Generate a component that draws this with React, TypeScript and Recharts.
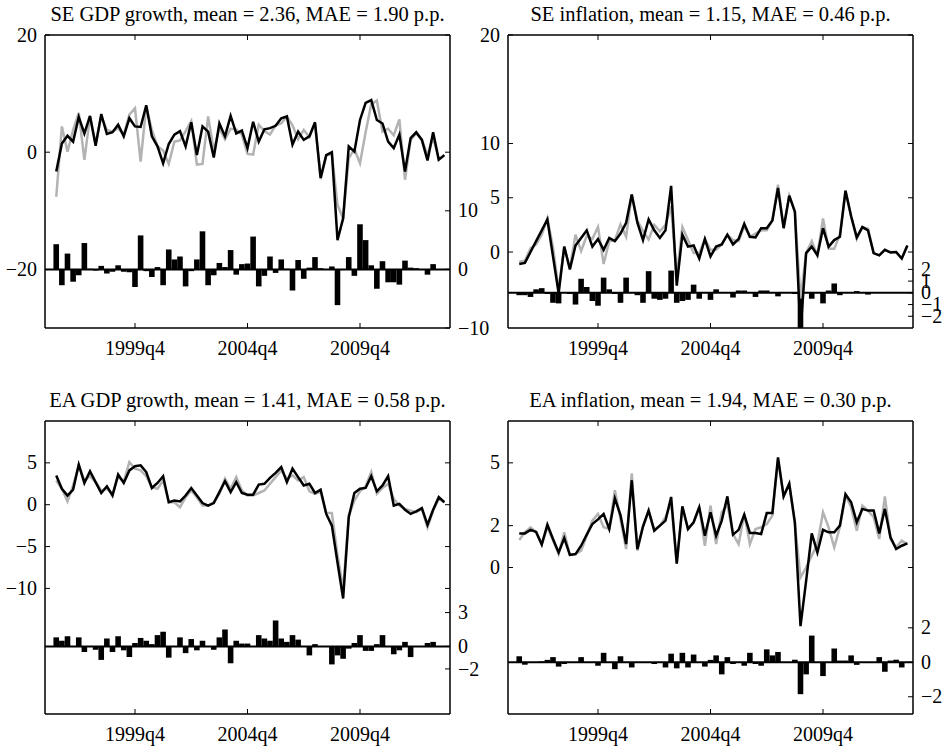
import { ComposedChart, Line, Bar, XAxis, YAxis, ReferenceLine } from 'recharts';

// quarter index on the x axis: 0 = 1995q4, first observation (index 2) = 1996q2
const FIRST_INDEX = 2;
const xTicks = [16, 36, 56];
const xTickLabels = ['1999q4', '2004q4', '2009q4'];

// SE GDP growth
const seGdpActual = [
  -7.6, 4.4, 0.1, 3.8, 6.7, -1.3, 6.1, 1.5, 6.1, 3.8,
  3.5, 4.1, 3.0, 6.4, 7.5, -1.6, 7.8, 3.8, 1.0, 0.3,
  -2.0, 1.8, 2.0, 3.6, 5.3, -2.1, -2.0, 6.1, 0.3, 4.1,
  2.2, 4.0, 3.9, 3.0, -0.3, -0.4, 4.7, 3.6, 3.0, 4.6,
  4.9, 6.1, 4.6, 2.2, 3.8, 2.6, 4.9, -4.6, -0.5, -0.4,
  -9.0, -11.3, -1.0, 0.5, -1.9, 3.4, 8.2, 8.8, 3.5, 4.0,
  2.9, 5.6, -4.7, 2.1, 3.2, 2.1, -0.5, 2.5, -1.2, -0.5,
];
const seGdpModel = [
  -3.3, 1.5, 2.8, 1.8, 6.0, 3.2, 6.2, 1.1, 6.5, 3.1,
  3.4, 4.7, 2.7, 5.8, 4.4, 4.3, 8.0, 2.7, 1.0, -1.9,
  1.4, 3.0, 3.6, 1.0, 5.1, -0.5, 4.4, 3.5, -0.9, 4.9,
  2.7, 6.2, 3.2, 3.7, 0.7, 5.2, 1.8, 3.9, 4.1, 4.5,
  5.8, 6.1, 1.3, 3.5, 2.1, 2.7, 5.1, -4.4, -0.5, 0.0,
  -15.0, -11.3, 1.0, 0.1, 5.5, 8.4, 8.9, 5.5, 4.9, 1.8,
  0.7, 3.0, -3.3, 2.4, 3.4, 2.1, -1.4, 3.4, -1.3, -0.5,
];
const seGdpError = [
  4.3, -2.7, 2.7, -2.1, -1.0, 4.5, 0.1, -0.2, 0.6, -0.7,
  -0.4, 0.7, -0.4, -0.5, -3.0, 5.8, -0.3, -1.3, 0.4, -2.7,
  3.4, 1.7, 2.2, -2.9, -0.3, 1.7, 6.5, -2.7, -1.0, 1.1,
  0.4, 3.3, -0.9, 0.9, 1.0, 5.6, -2.9, -1.1, 2.2, -0.6,
  1.7, 0.1, -3.6, 1.6, -1.6, 0.3, 2.1, 0.2, 0.0, 0.5,
  -6.1, 0.0, 2.1, -1.1, 7.7, 5.0, 0.7, -3.3, 1.4, -2.2,
  -2.2, -2.6, 1.5, 0.3, 0.2, 0.0, -0.9, 0.9, -0.1, 0.0,
];

// SE inflation
const seInfActual = [
  -0.9, -0.8, 0.35, 0.7, 1.6, 3.1, 0.45, -3.5, 0.5, -1.5,
  1.6, 0.1, 1.5, 1.2, 2.3, -1.1, 1.0, 1.1, 2.55, 1.4,
  5.3, 2.9, 1.95, 1.15, 2.5, 1.9, 2.5, 4.2, -2.25, 2.3,
  1.1, -0.1, -0.1, 1.2, 0.2, 0.2, 0.7, 1.6, 1.1, 1.0,
  2.4, 1.4, 1.7, 2.0, 2.0, 2.9, 6.2, 2.2, 5.2, 3.8,
  -4.3, -0.1, 1.0, -0.3, 3.1, 0.3, 0.3, 1.6, 5.65, 3.3,
  1.2, 2.3, 2.15, -0.1, -0.3, 0.2, 0.0, 0.0, -0.6, 0.6,
];
const seInfModel = [
  -1.1, -1.0, 0.0, 1.0, 2.0, 3.0, -0.4, -3.8, 0.5, -1.6,
  0.6, 1.3, 2.0, 0.5, 1.2, 0.2, 1.3, 1.0, 1.7, 2.7,
  5.3, 2.7, 1.1, 3.0, 2.0, 1.3, 2.0, 6.1, -3.1, 1.6,
  0.5, 0.6, -0.6, 1.2, -0.4, 0.5, 0.7, 1.6, 0.7, 1.2,
  2.6, 1.4, 1.35, 2.2, 2.2, 2.9, 5.9, 2.2, 5.2, 3.7,
  -7.3, -0.1, 0.5, -0.3, 2.2, 0.5, 1.1, 1.4, 5.65, 3.3,
  1.35, 2.3, 2.0, -0.1, -0.3, 0.2, -0.05, 0.0, -0.6, 0.6,
];
const seInfError = [
  -0.2, -0.2, -0.35, 0.3, 0.4, -0.1, -0.85, -0.9, 0.0, -0.1,
  -1.0, 1.2, 0.5, -0.7, -1.1, 1.3, 0.3, -0.1, -0.85, 1.3,
  0.0, -0.2, -0.85, 1.85, -0.5, -0.6, -0.5, 1.9, -0.85, -0.7,
  -0.6, 0.7, -0.5, 0.0, -0.6, 0.3, 0.0, 0.0, -0.4, 0.2,
  0.2, 0.0, -0.35, 0.2, 0.2, 0.0, -0.3, 0.0, 0.0, -0.1,
  -3.0, 0.0, -0.5, 0.0, -0.9, 0.2, 0.8, -0.2, 0.0, 0.0,
  0.15, 0.0, -0.15, 0.0, 0.0, 0.0, 0.0, 0.0, 0.0, 0.0,
];

// EA GDP growth
const eaGdpActual = [
  2.9, 1.9, 0.4, 2.3, 4.7, 2.9, 3.4, 2.7, 1.7, 1.9,
  1.3, 3.3, 2.8, 5.1, 4.3, 4.1, 3.4, 2.1, 1.9, 2.9,
  0.3, 0.3, -0.3, 0.9, 1.7, 0.9, -0.1, -0.1, 0.3, 1.3,
  3.1, 1.9, 3.3, 1.7, 1.1, 1.1, 1.4, 1.7, 2.5, 3.3,
  4.1, 3.1, 3.5, 2.9, 3.3, 1.6, 1.3, 1.5, -1.0, -1.0,
  -6.0, -10.1, -1.3, 0.5, 1.6, 2.2, 3.9, 1.3, 2.0, 2.5,
  0.7, -0.1, -0.5, -0.7, -0.9, -0.5, -2.7, -0.7, 0.7, 0.3,
];
const eaGdpModel = [
  3.5, 1.9, 1.1, 1.8, 4.8, 2.6, 4.0, 2.7, 1.4, 2.2,
  1.1, 3.6, 2.6, 4.1, 4.6, 4.7, 3.9, 2.0, 2.6, 3.4,
  0.3, 0.5, 0.4, 1.1, 2.0, 1.1, 0.2, -0.1, 0.2, 1.5,
  2.8, 1.5, 2.7, 1.4, 1.2, 1.2, 2.4, 2.5, 3.2, 3.8,
  4.5, 2.7, 4.3, 3.3, 2.3, 2.5, 1.4, 1.8, -1.1, -2.5,
  -6.9, -11.2, -1.5, 1.4, 1.9, 2.0, 3.4, 1.6, 2.3, 3.4,
  -0.1, 0.1, -0.6, -1.1, -0.8, -0.4, -2.4, -0.6, 0.9, 0.3,
];
const eaGdpError = [
  0.8, 0.5, 0.9, 0.0, 0.8, -0.5, 0.0, -0.3, -1.2, 0.7,
  -0.5, 0.9, -0.35, -0.95, 0.3, 0.75, 0.5, 0.2, 1.0, 1.3,
  -1.0, 0.0, 0.8, -0.6, 0.65, -0.35, 0.5, 0.0, -0.3, 0.8,
  1.5, -1.5, 0.5, 0.25, 0.25, 0.0, 1.0, 0.7, 0.5, 2.3,
  0.7, 0.4, 1.0, 0.6, 0.0, -0.8, 0.2, 0.0, 0.0, -1.6,
  -0.8, -1.1, -0.2, 0.3, 1.0, -0.4, -0.4, 0.2, 1.0, 0.0,
  -0.7, -0.35, 0.4, -0.95, 0.0, 0.0, 0.3, 0.4, 0.0, 0.0,
];

// EA inflation
const eaInfActual = [
  1.31, 1.68, 1.92, 1.7, 1.12, 1.92, 1.3, 0.64, 1.68, 0.6,
  0.64, 0.8, 1.52, 2.24, 2.56, 1.92, 1.84, 3.69, 2.3, 0.88,
  4.5, 0.8, 1.96, 2.72, 1.8, 2.0, 2.4, 3.1, 0.19, 2.9,
  1.84, 2.16, 2.9, 1.04, 2.96, 1.12, 2.64, 3.0, 1.6, 1.12,
  2.56, 1.12, 1.84, 1.92, 2.08, 2.48, 5.16, 3.4, 4.0, 2.08,
  -0.48, 0.0, 0.56, 1.12, 2.64, 1.92, 0.96, 1.92, 3.45, 2.88,
  1.76, 2.96, 2.72, 2.4, 1.36, 3.4, 1.36, 0.96, 1.28, 1.12,
];
const eaInfModel = [
  1.63, 1.63, 1.8, 1.7, 1.1, 2.05, 1.36, 0.72, 1.4, 0.6,
  0.64, 1.04, 1.57, 2.08, 2.3, 2.56, 1.84, 3.3, 2.5, 1.12,
  4.17, 0.88, 1.96, 2.72, 1.76, 2.0, 2.24, 3.37, 0.19, 2.92,
  1.84, 2.16, 2.88, 1.52, 2.64, 1.52, 2.24, 3.4, 1.57, 1.8,
  2.53, 1.65, 1.65, 1.6, 2.6, 2.6, 5.26, 3.4, 4.0, 2.16,
  -2.8, -0.64, 1.63, 0.72, 1.8, 1.68, 1.68, 2.0, 3.5, 3.12,
  2.16, 2.8, 2.72, 2.72, 1.63, 2.8, 1.44, 0.88, 1.04, 1.15,
];
const eaInfError = [
  0.35, -0.14, 0.0, 0.0, 0.05, 0.14, 0.3, -0.25, -0.1, 0.0,
  0.0, 0.3, 0.0, 0.0, -0.2, 0.55, 0.0, -0.4, 0.35, 0.0,
  -0.3, 0.0, 0.0, 0.0, -0.1, 0.0, -0.3, 0.5, -0.35, 0.55,
  -0.3, 0.45, 0.0, -0.25, 0.14, 0.4, -0.7, 0.3, -0.1, 0.0,
  -0.2, 0.55, -0.1, -0.2, 0.75, 0.4, 0.6, 0.0, 0.0, 0.15,
  -1.85, -0.7, 1.55, 0.0, -0.8, 0.0, 0.8, 0.1, 0.1, 0.4,
  -0.15, 0.0, 0.0, 0.0, 0.3, -0.55, 0.1, 0.15, -0.3, 0.0,
];

const FONT = '"Liberation Serif", "Times New Roman", Times, serif';
const PLOT_W = 405;
const PLOT_H = 293;
const PAD_L = 45;
const PAD_T = 35;
const PAD_R = 50;
const PAD_B = 40;
const PLOT_R = PAD_L + PLOT_W;
const PLOT_B = PAD_T + PLOT_H;
const GRAY = '#b3b3b3';
const FRAME = { stroke: '#000', strokeWidth: 1.5 };

const fmt = (v: number) => (v < 0 ? '\u2212' + Math.abs(v) : String(v));

function XTick(props: any) {
  const { x, payload } = props;
  const label = xTickLabels[xTicks.indexOf(payload.value)];
  return (
    <g>
      <line x1={x} x2={x} y1={PLOT_B} y2={PLOT_B - 5} stroke="#000" />
      <line x1={x} x2={x} y1={PAD_T} y2={PAD_T + 5} stroke="#000" />
      <text x={x} y={PLOT_B + 27} textAnchor="middle" fontFamily={FONT} fontSize={20} fill="#000">
        {label}
      </text>
    </g>
  );
}

function LeftTick(props: any) {
  const { y, payload } = props;
  return (
    <g>
      <line x1={PAD_L} x2={PAD_L + 5} y1={y} y2={y} stroke="#000" />
      <line x1={PLOT_R} x2={PLOT_R - 5} y1={y} y2={y} stroke="#000" />
      <text x={PAD_L - 8} y={y} dy="0.33em" textAnchor="end" fontFamily={FONT} fontSize={20} fill="#000">
        {fmt(payload.value)}
      </text>
    </g>
  );
}

function RightTick(props: any) {
  const { y, payload } = props;
  return (
    <g>
      <line x1={PLOT_R} x2={PLOT_R - 5} y1={y} y2={y} stroke="#000" />
      <text x={PLOT_R + 8} y={y} dy="0.33em" textAnchor="start" fontFamily={FONT} fontSize={20} fill="#000">
        {fmt(payload.value)}
      </text>
    </g>
  );
}

interface PanelProps {
  left: number;
  top: number;
  actual: number[];
  model: number[];
  error: number[];
  leftDomain: [number, number];
  leftTicks: number[];
  rightDomain: [number, number];
  rightTicks: number[];
}

function Panel({ left, top, actual, model, error, leftDomain, leftTicks, rightDomain, rightTicks }: PanelProps) {
  const data = actual.map((a, i) => ({ t: FIRST_INDEX + i, actual: a, model: model[i], error: error[i] }));
  return (
    <div style={{ position: 'absolute', left: left - PAD_L, top: top - PAD_T }}>
      <ComposedChart
        width={PAD_L + PLOT_W + PAD_R}
        height={PAD_T + PLOT_H + PAD_B}
        data={data}
        margin={{ top: PAD_T, right: 0, bottom: 0, left: 0 }}
      >
        <XAxis
          dataKey="t"
          type="number"
          domain={[0, 72]}
          ticks={xTicks}
          interval={0}
          height={PAD_B}
          axisLine={FRAME}
          tickLine={false}
          tick={XTick}
          allowDataOverflow
        />
        <YAxis
          yAxisId="L"
          domain={leftDomain}
          ticks={leftTicks}
          interval={0}
          width={PAD_L}
          axisLine={FRAME}
          tickLine={false}
          tick={LeftTick}
          allowDataOverflow
        />
        <YAxis
          yAxisId="R"
          orientation="right"
          domain={rightDomain}
          ticks={rightTicks}
          interval={0}
          width={PAD_R}
          axisLine={FRAME}
          tickLine={false}
          tick={RightTick}
          allowDataOverflow
        />
        <Bar yAxisId="R" dataKey="error" fill="#000" barSize={5.6} isAnimationActive={false} />
        <ReferenceLine yAxisId="R" y={0} stroke="#000" strokeWidth={2} />
        <Line yAxisId="L" dataKey="actual" stroke={GRAY} strokeWidth={2.5} dot={false} isAnimationActive={false} />
        <Line yAxisId="L" dataKey="model" stroke="#000" strokeWidth={2.5} dot={false} isAnimationActive={false} />
        <ReferenceLine yAxisId="L" y={leftDomain[1]} stroke="#000" strokeWidth={1.5} />
      </ComposedChart>
    </div>
  );
}

const titles = [
  'SE GDP growth, mean = 2.36, MAE = 1.90 p.p.',
  'SE inflation, mean = 1.15, MAE = 0.46 p.p.',
  'EA GDP growth, mean = 1.41, MAE = 0.58 p.p.',
  'EA inflation, mean = 1.94, MAE = 0.30 p.p.',
];

const COL = [45, 508];
const ROW = [35, 421];

export default function App() {
  return (
    <div style={{ position: 'absolute', left: 0, top: 0, width: 946, height: 747, overflow: 'hidden', background: '#fff' }}>
      <Panel
        left={COL[0]}
        top={ROW[0]}
        actual={seGdpActual}
        model={seGdpModel}
        error={seGdpError}
        leftDomain={[-30, 20]}
        leftTicks={[-20, 0, 20]}
        rightDomain={[-10, 40]}
        rightTicks={[-10, 0, 10]}
      />
      <Panel
        left={COL[1]}
        top={ROW[0]}
        actual={seInfActual}
        model={seInfModel}
        error={seInfError}
        leftDomain={[-7, 20]}
        leftTicks={[0, 5, 10, 20]}
        rightDomain={[-3, 22]}
        rightTicks={[-2, -1, 0, 1, 2]}
      />
      <Panel
        left={COL[0]}
        top={ROW[1]}
        actual={eaGdpActual}
        model={eaGdpModel}
        error={eaGdpError}
        leftDomain={[-25, 10]}
        leftTicks={[-10, -5, 0, 5]}
        rightDomain={[-6, 20]}
        rightTicks={[-2, 0, 3]}
      />
      <Panel
        left={COL[1]}
        top={ROW[1]}
        actual={eaInfActual}
        model={eaInfModel}
        error={eaInfError}
        leftDomain={[-7, 7]}
        leftTicks={[0, 2, 5]}
        rightDomain={[-3, 14]}
        rightTicks={[-2, 0, 2]}
      />
      <svg width={946} height={747} style={{ position: 'absolute', left: 0, top: 0, pointerEvents: 'none' }}>
        {titles.map((title, i) => (
          <text
            key={title}
            x={COL[i % 2] + PLOT_W / 2}
            y={ROW[Math.floor(i / 2)] - 14.5}
            textAnchor="middle"
            fontFamily={FONT}
            fontSize={20.5}
            fill="#000"
          >
            {title}
          </text>
        ))}
      </svg>
    </div>
  );
}
